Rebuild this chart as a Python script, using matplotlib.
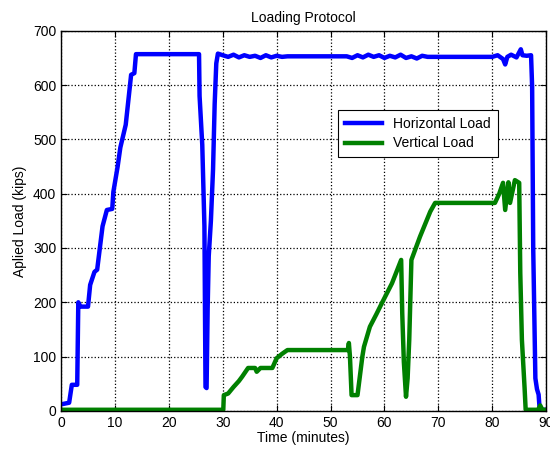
import numpy as np
import matplotlib
matplotlib.use("Agg")
import matplotlib.pyplot as plt

plt.rcParams['font.family'] = ['Liberation Sans', 'DejaVu Sans']

# horizontal load (kips) vs time (minutes)
blue_t = [0, 1.5, 2.0, 2.2, 3.0, 3.2, 3.6, 5.0, 5.4, 6.2, 6.7, 7.2, 7.7, 8.5, 9.5,
          9.7, 10.5, 11.0, 12.0, 12.5, 13.0, 13.6, 13.9, 25.6, 25.7, 26.2, 26.4,
          26.6, 26.8, 27.0, 27.2, 27.4, 27.8, 28.2, 28.5, 28.8, 29.1, 30, 31, 32,
          33, 34, 35, 36, 37, 38, 39, 40, 41, 42, 53, 54, 55, 56, 57, 58, 59, 60,
          61, 62, 63, 64, 65, 66, 67, 68, 80, 81, 82, 82.4, 82.8, 83.5, 84.5,
          85.3, 85.6, 86.4, 87.2, 87.4, 87.6, 88.0, 88.3, 88.6, 88.8, 90]
blue_v = [12, 15, 48, 48, 48, 200, 192, 192, 232, 256, 260, 300, 340, 370, 372,
          403, 450, 485, 527, 573, 619, 622, 657, 657, 580, 490, 415, 340, 44,
          42, 190, 285, 350, 445, 565, 640, 658, 655, 652, 656, 651, 655, 652,
          654, 650, 655, 651, 654, 652, 653, 653, 650, 655, 651, 656, 652, 655,
          650, 654, 651, 656, 650, 653, 649, 654, 652, 652, 655, 648, 638, 652,
          656, 651, 666, 655, 654, 655, 597, 300, 60, 40, 30, 2, 2]

# vertical load (kips) vs time (minutes)
green_t = [0, 30.1, 30.2, 31, 32, 33, 33.6, 34.7, 36, 36.3, 37, 39.2, 40, 41,
           42, 53.2, 53.4, 53.6, 53.9, 55, 55.9, 56.2, 57.3, 58.5, 59.6, 61.4,
           63.1, 63.3, 63.6, 64.0, 64.3, 64.6, 65.0, 66.6, 68.5, 69.4, 80.5,
           81.3, 82, 82.4, 83, 83.3, 84.2, 85.0, 85.2, 85.5, 86.0, 86.2, 88.5,
           88.9, 89.3, 90]
green_v = [2, 2, 29, 32, 44, 55, 63, 79, 79, 72, 79, 79, 97, 105, 112, 112, 125,
           100, 29, 29, 100, 118, 155, 178, 200, 235, 278, 180, 90, 26, 60, 131,
           278, 321, 367, 383, 383, 400, 420, 370, 421, 383, 425, 420, 254, 131,
           42, 2, 2, 10, 2, 2]

xticks = np.arange(0, 91, 10)
yticks = np.arange(0, 701, 100)

fig = plt.figure(figsize=(5.5, 4.53), dpi=100)
ax = fig.add_axes([0.111, 0.093, 0.882, 0.839])

ax.plot(blue_t, blue_v, color='#0000ff', lw=3.2, label='Horizontal Load')
ax.plot(green_t, green_v, color='#008000', lw=3.2, label='Vertical Load')

ax.set_xlim(0, 90)
ax.set_ylim(0, 700)
ax.set_xticks(xticks)
ax.set_yticks(yticks)
ax.grid(True, linestyle=':', color='black', lw=0.9)
ax.tick_params(direction='in', top=True, right=True, labelsize=10, length=4)
for s in ax.spines.values():
    s.set_linewidth(1.0)

ax.set_xlabel('Time (minutes)', fontsize=10, labelpad=1)
ax.set_ylabel('Aplied Load (kips)', fontsize=10)
ax.set_title('Loading Protocol', fontsize=10, pad=6)

leg = ax.legend(loc='upper right', bbox_to_anchor=(0.915, 0.81), fontsize=10,
                fancybox=False, framealpha=1, edgecolor='black',
                handlelength=2.7, borderpad=0.5, labelspacing=0.4)
leg.get_frame().set_linewidth(0.8)

fig.savefig('out.png', dpi=100)
